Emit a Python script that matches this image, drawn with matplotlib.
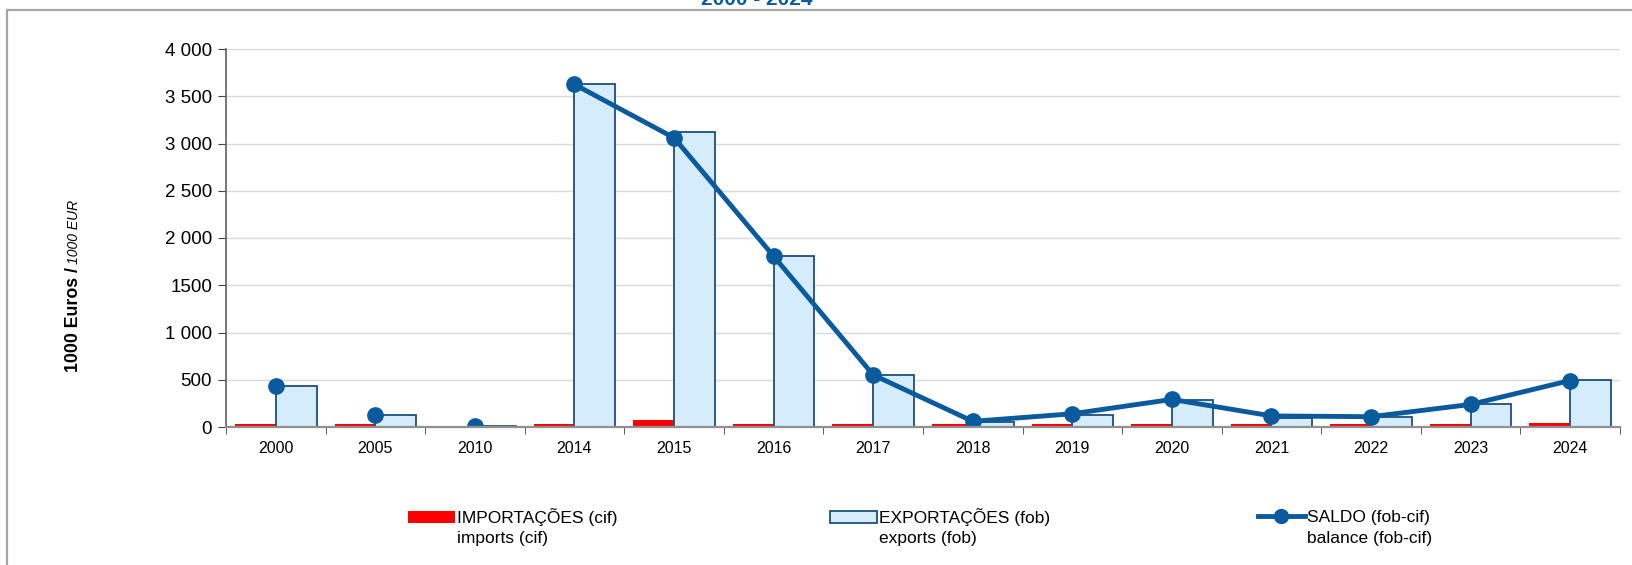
import numpy as np
import matplotlib
matplotlib.use('Agg')
import matplotlib.pyplot as plt
from matplotlib.patches import Rectangle, Patch
from matplotlib.lines import Line2D
from matplotlib.ticker import FuncFormatter

plt.rcParams['font.family'] = ['Liberation Sans', 'DejaVu Sans']

# data (1000 EUR)
years = ['2000', '2005', '2010', '2014', '2015', '2016', '2017',
         '2018', '2019', '2020', '2021', '2022', '2023', '2024']
imports = [30, 30, 0, 30, 70, 30, 30, 30, 30, 30, 30, 30, 30, 40]
exports = [437, 127, 12, 3625, 3118, 1807, 551, 55, 130, 289, 90, 106, 240, 498]
balance = [435, 127, 10, 3625, 3060, 1807, 551, 60, 140, 292, 117, 109, 239, 492]
# yearly series starts in 2014 (earlier years are isolated points)
first_yearly = 3

W, H = 1633, 565
fig = plt.figure(figsize=(W / 100, H / 100), dpi=100)
ax = fig.add_axes([226 / W, 1 - 427 / H, (1620 - 226) / W, (427 - 49) / H])

x = np.arange(len(years))
bw = 0.41
ax.bar(x - bw / 2, imports, width=bw, color='#ff0000', edgecolor='none', zorder=3)
ax.bar(x + bw / 2, exports, width=bw, color='#d4ecfc', edgecolor='#1f4e79',
       linewidth=1.3, zorder=3)
blue = '#0a5a9e'
ax.plot(x[first_yearly:], balance[first_yearly:], color=blue, lw=3.5, zorder=4)
ax.plot(x, balance, ls='none', marker='o', markersize=11, color=blue, zorder=4)

ax.set_xlim(-0.5, len(years) - 0.5)
ax.set_ylim(0, 4000)
ax.set_yticks(np.arange(0, 4001, 500))
ax.yaxis.set_major_formatter(FuncFormatter(
    lambda v, p: f'{int(v):,}'.replace(',', ' ') if v >= 2000 or v == 1000 else f'{int(v)}'))
ax.set_xticks(x)
ax.set_xticklabels(years, fontsize=11.5)
ax.set_xticks(np.arange(-0.5, len(years)), minor=True)
ax.tick_params(axis='x', which='major', length=0, pad=10)
ax.tick_params(axis='x', which='minor', length=5, direction='out', color='#404040')
ax.tick_params(axis='y', length=6, direction='out', labelsize=13.5, pad=4, color='#404040')

ax.grid(axis='y', color='#d9d9d9', lw=1, zorder=0)
for s in ['top', 'right']:
    ax.spines[s].set_visible(False)
ax.spines['left'].set_color('#606060')
ax.spines['bottom'].set_color('#909090')
ax.spines['left'].set_linewidth(1.2)
ax.spines['bottom'].set_linewidth(1.6)
ax.spines['bottom'].set_zorder(5)

# outer frame
fig.patches.append(Rectangle((7 / W, -0.2), 1.2, 1.2 - 10 / H, transform=fig.transFigure,
                             fill=False, edgecolor='#a6a6a6', lw=1.6, clip_on=False))

# title (cut off at top in the original as well)
fig.text(757 / W, 1 - 5 / H, '2000 - 2024', ha='center', va='baseline',
         fontsize=15, fontweight='bold', color=blue)

# y label
fig.text(78 / W, 1 - 372 / H, '1000 Euros /', rotation=90, rotation_mode='anchor',
         ha='left', va='baseline', fontsize=12.8, fontweight='bold')
fig.text(78 / W, 1 - 264 / H, '1000 EUR', rotation=90, rotation_mode='anchor',
         ha='left', va='baseline', fontsize=10, fontstyle='italic')

# legend
handles = [Patch(facecolor='#ff0000', edgecolor='none'),
           Patch(facecolor='#d4ecfc', edgecolor='#1f4e79', linewidth=1.3),
           Line2D([], [], color=blue, lw=3.5, marker='o', markersize=10)]
line1 = ['IMPORTAÇÕES (cif)', 'EXPORTAÇÕES (fob)', 'SALDO (fob-cif)']
line2 = ['imports (cif)', 'exports (fob)', 'balance (fob-cif)']
xpos = [408, 830, 1258]
legs = []
for h, l1, xp in zip(handles, line1, xpos):
    lg = fig.legend([h], [l1], loc='center left', bbox_to_anchor=(xp / W, 1 - 517 / H),
                    frameon=False, fontsize=12.5, borderpad=0, borderaxespad=0,
                    handlelength=2.7, handleheight=0.75, handletextpad=0.15)
    legs.append(lg)

fig.canvas.draw()
for lg, l2 in zip(legs, line2):
    bb = lg.get_texts()[0].get_window_extent()
    fig.text(bb.x0 / W, 1 - 538 / H, l2, ha='left', va='center', fontsize=12.5)

fig.savefig('out.png', dpi=100)
